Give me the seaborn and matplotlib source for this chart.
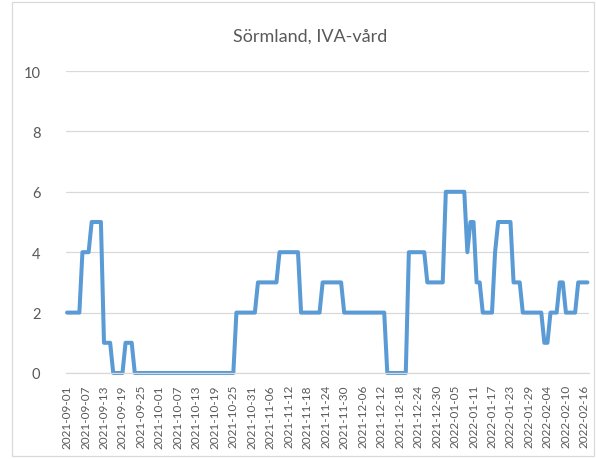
import numpy as np
import pandas as pd
import matplotlib
matplotlib.use("Agg")
import matplotlib.pyplot as plt
import seaborn as sns
from matplotlib.patches import Rectangle

title = "Sörmland, IVA-vård"

# daily values, 2021-09-01 .. 2022-02-18
values = [
    2, 2, 2, 2, 2, 4, 4, 4, 5, 5,
    5, 5, 1, 1, 1, 0, 0, 0, 0, 1,
    1, 1, 0, 0, 0, 0, 0, 0, 0, 0,
    0, 0, 0, 0, 0, 0, 0, 0, 0, 0,
    0, 0, 0, 0, 0, 0, 0, 0, 0, 0,
    0, 0, 0, 0, 0, 2, 2, 2, 2, 2,
    2, 2, 3, 3, 3, 3, 3, 3, 3, 4,
    4, 4, 4, 4, 4, 4, 2, 2, 2, 2,
    2, 2, 2, 3, 3, 3, 3, 3, 3, 3,
    2, 2, 2, 2, 2, 2, 2, 2, 2, 2,
    2, 2, 2, 2, 0, 0, 0, 0, 0, 0,
    0, 4, 4, 4, 4, 4, 4, 3, 3, 3,
    3, 3, 3, 6, 6, 6, 6, 6, 6, 6,
    4, 5, 5, 3, 3, 2, 2, 2, 2, 4,
    5, 5, 5, 5, 5, 3, 3, 3, 2, 2,
    2, 2, 2, 2, 2, 1, 1, 2, 2, 2,
    3, 3, 2, 2, 2, 2, 3, 3, 3, 3,
]
dates = pd.date_range("2021-09-01", periods=len(values)).strftime("%Y-%m-%d").tolist()

tick_labels = [
    "2021-09-01", "2021-09-07", "2021-09-13", "2021-09-19", "2021-09-25",
    "2021-10-01", "2021-10-07", "2021-10-13", "2021-10-19", "2021-10-25",
    "2021-10-31", "2021-11-06", "2021-11-12", "2021-11-18", "2021-11-24",
    "2021-11-30", "2021-12-06", "2021-12-12", "2021-12-18", "2021-12-24",
    "2021-12-30", "2022-01-05", "2022-01-11", "2022-01-17", "2022-01-23",
    "2022-01-29", "2022-02-04", "2022-02-10", "2022-02-16",
]
y_ticks = [0, 2, 4, 6, 8, 10]

df = pd.DataFrame({"date": dates, "pos": np.arange(len(values)), "value": values})

sns.set_style("white")
plt.rcParams["font.family"] = ["Lato", "DejaVu Sans"]

W, H = 596, 460
fig = plt.figure(figsize=(W / 100, H / 100), dpi=100)
fig.patch.set_facecolor("white")
fig.patches.append(Rectangle((12 / W, 1 - 457 / H), (594 - 12) / W, (457 - 3) / H,
                             transform=fig.transFigure, fill=False,
                             edgecolor="#D9D9D9", linewidth=0.9))

ax = fig.add_axes([65.5 / W, 1 - 374 / H, (589 - 65.5) / W, (374 - 72) / H])
sns.lineplot(data=df, x="pos", y="value", ax=ax, color="#5B9BD5",
             linewidth=2.9, clip_on=False, solid_joinstyle="round",
             solid_capstyle="round")

ax.set_xlim(-0.5, len(values) - 0.5)
ax.set_ylim(0, 10)
ax.set_yticks(y_ticks)
ax.set_yticklabels([str(v) for v in y_ticks])
pos_map = {d: i for i, d in enumerate(dates)}
ax.set_xticks([pos_map[t] for t in tick_labels])
ax.set_xticklabels(tick_labels, rotation=90)
ax.set_xlabel("")
ax.set_ylabel("")

ax.grid(axis="y", color="#D9D9D9", linewidth=0.9)
ax.set_axisbelow(True)
for s in ["top", "right", "left"]:
    ax.spines[s].set_visible(False)
ax.spines["bottom"].set_color("#D9D9D9")
ax.spines["bottom"].set_linewidth(0.9)

ax.tick_params(axis="x", length=0, pad=8, labelsize=8.5, colors="#595959")
ax.tick_params(axis="y", length=0, pad=18, labelsize=10.5, colors="#595959")

fig.text(310 / W, 1 - 37 / H, title, ha="center", va="center",
         fontsize=13, color="#595959")

fig.savefig("out.png", dpi=100)
